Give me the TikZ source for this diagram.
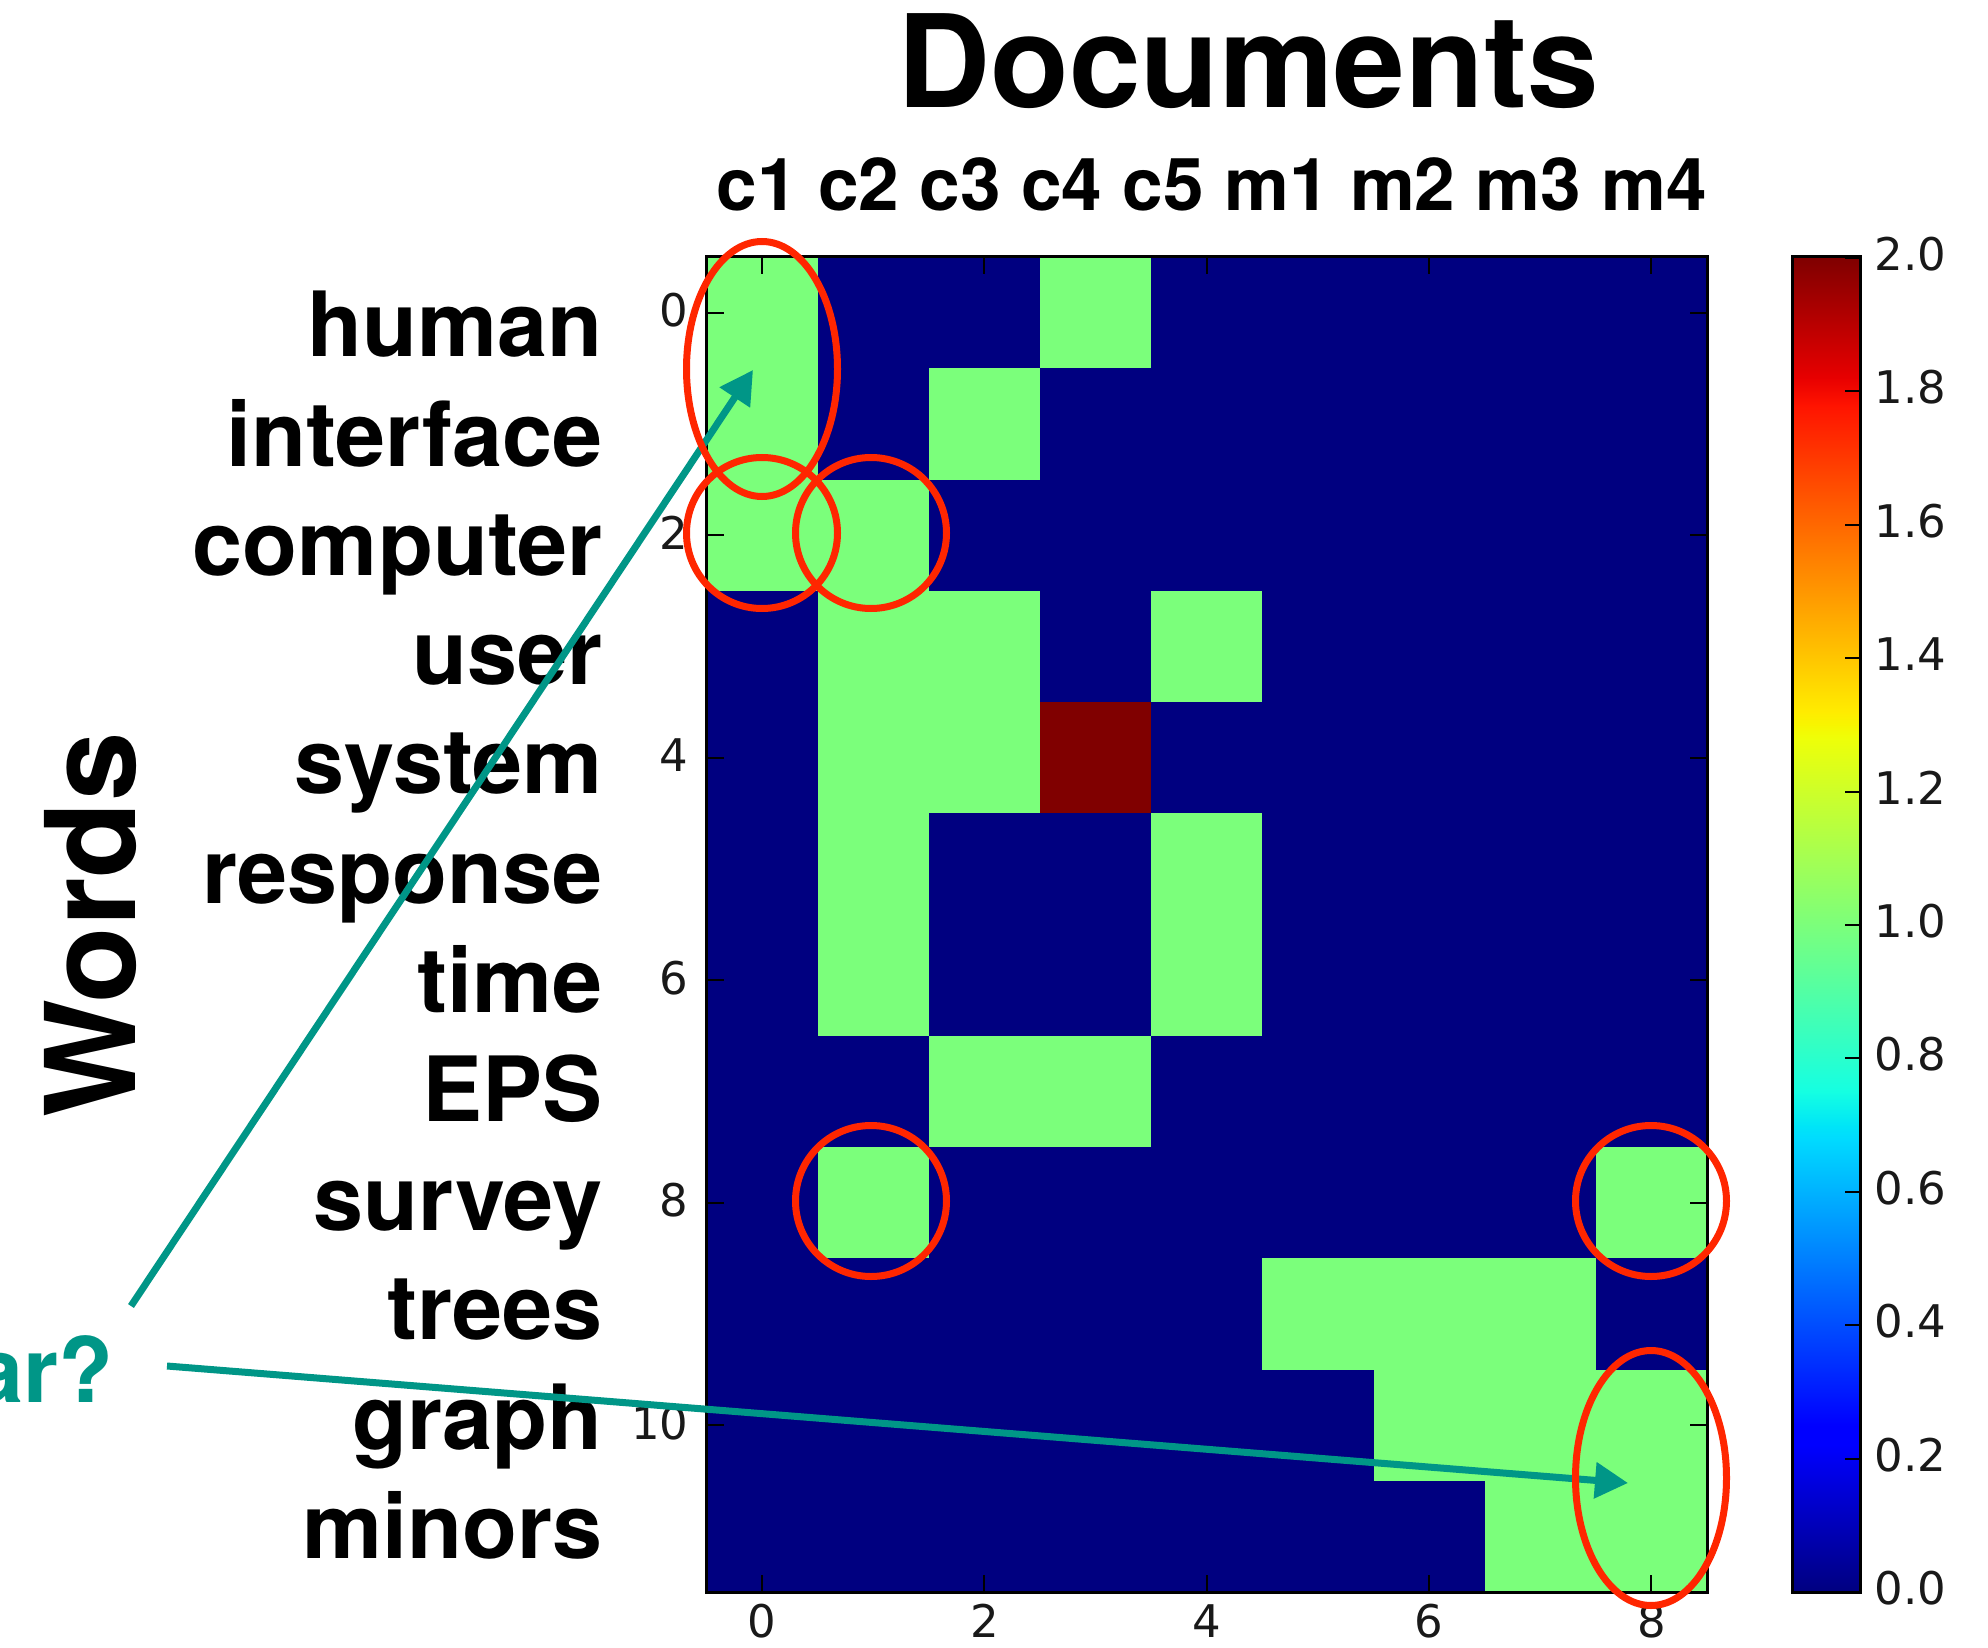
\documentclass[tikz,border=0pt]{standalone}
\usepackage{fontspec}
\setmainfont{TeX Gyre Heros}
\newfontfamily\tickfont{DejaVu Sans}
\usetikzlibrary{arrows.meta,shapes.geometric}

% jet colour map
\definecolor{jetnavy}{rgb}{0,0,0.5}
\definecolor{jetgreen}{rgb}{0.484,1,0.484}
\definecolor{jetmaroon}{rgb}{0.5,0,0}
\definecolor{jA}{rgb}{0,0,0.5}
\definecolor{jB}{rgb}{0,0,1}
\definecolor{jC}{rgb}{0,0,1}
\definecolor{jD}{rgb}{0,0.86,1}
\definecolor{jE}{rgb}{0,0.9,0.968}
\definecolor{jF}{rgb}{0.081,1,0.887}
\definecolor{jG}{rgb}{0.935,1,0.032}
\definecolor{jH}{rgb}{0.968,0.963,0}
\definecolor{jI}{rgb}{1,0.926,0}
\definecolor{jJ}{rgb}{1,0.074,0}
\definecolor{jK}{rgb}{0.909,0,0}
\definecolor{jL}{rgb}{0.5,0,0}
\definecolor{ringred}{RGB}{255,38,0}
\definecolor{arrowteal}{RGB}{0,150,135}

\begin{document}
\begin{tikzpicture}[x=0.5pt,y=-0.5pt,
  tickline/.style={line width=1pt,black},
  ticklabel/.style={inner sep=0pt,font=\tickfont\fontsize{22.5pt}{22.5pt}\selectfont,text=black!90},
  wordlabel/.style={inner sep=0pt,anchor=base east,font=\bfseries\fontsize{45pt}{45pt}\selectfont},
  pointer/.style={arrowteal,line width=3.5pt,-{Triangle[length=16.5pt,width=17.5pt]}},
  ring/.style={draw=ringred,line width=3.5pt,ellipse,inner sep=0pt,fill=none}]
\useasboundingbox (0,0) rectangle (1988,1648);
\fill[white] (0,0) rectangle (1988,1648);

% heat map
\fill[jetnavy] (706.5,257) rectangle (1707,1592);
\foreach \c/\r in {0/0,3/0,0/1,2/1,0/2,1/2,1/3,2/3,4/3,1/4,2/4,1/5,4/5,1/6,4/6,2/7,3/7,1/8,8/8,5/9,6/9,7/9,6/10,7/10,8/10,7/11,8/11}
  \fill[jetgreen] ({706.5+\c*111.17},{257+\r*111.25}) rectangle ++(111.17,111.25);
\fill[jetmaroon] ({706.5+3*111.17},{257+4*111.25}) rectangle ++(111.17,111.25);

% axis ticks
\foreach \c in {0,2,4,6,8} {
  \draw[tickline] ({706.5+(\c+0.5)*111.17},257) -- ++(0,17);
  \draw[tickline] ({706.5+(\c+0.5)*111.17},1592) -- ++(0,-17);
  \node[ticklabel,anchor=base] (xt\c) at ({706.5+(\c+0.5)*111.17},1637) {\c};
}
\foreach \r in {0,2,4,6,8,10} {
  \draw[tickline] (706.5,{257+(\r+0.5)*111.25}) -- ++(17,0);
  \draw[tickline] (1707,{257+(\r+0.5)*111.25}) -- ++(-17,0);
  \node[ticklabel,anchor=base east] (yt\r) at (689,{257+(\r+0.5)*111.25+14}) {\r};
}
\draw[line width=1.5pt] (706.5,257) rectangle (1707,1592);

% colour bar
\foreach \fa/\fb/\ca/\cb in {0/0.11/jA/jB,0.11/0.125/jB/jC,0.125/0.34/jC/jD,0.34/0.35/jD/jE,0.35/0.375/jE/jF,0.375/0.64/jF/jG,0.64/0.65/jG/jH,0.65/0.66/jH/jI,0.66/0.89/jI/jJ,0.89/0.91/jJ/jK,0.91/1/jK/jL}
  \shade[bottom color=\ca,top color=\cb] (1792,{1592-1334*\fa+0.6}) rectangle (1860,{1592-1334*\fb-0.6});
\foreach \v [count=\k from 0] in {0.0,0.2,0.4,0.6,0.8,1.0,1.2,1.4,1.6,1.8,2.0} {
  \draw[tickline] (1860,{1592-133.4*\k}) -- ++(-15,0);
  \node[ticklabel,anchor=base west] (cb\k) at (1874,{1592-133.4*\k+12.5}) {\v};
}
\draw[line width=1.5pt] (1792,257) rectangle (1860,1592);

% titles
\node[inner sep=0pt,anchor=base,font=\bfseries\fontsize{64.4pt}{64.4pt}\selectfont] (title) at (1248,108) {Documents};
\node[inner sep=0pt,anchor=base,font=\bfseries\fontsize{36.5pt}{36.5pt}\selectfont] (docs) at (1212,211) {c1 c2 c3 c4 c5 m1 m2 m3 m4};
\node[inner sep=0pt,rotate=90,anchor=base,font=\bfseries\fontsize{62.5pt}{62.5pt}\selectfont] (words) at (135,925) {Words};

% row labels
\foreach \w [count=\i from 0] in {human,interface,computer,user,system,response,time,EPS,survey,trees,graph,minors}
  \node[wordlabel] (w\i) at (603,{357+109.2*\i}) {\w};

% question
\node[wordlabel,text=arrowteal] (question) at (114,1402) {ar?};

% arrows
\coordinate (a1s) at (131,1306);
\coordinate (a1e) at (753,370);
\coordinate (a2s) at (167,1366);
\coordinate (a2e) at (1628,1483);
\draw[pointer] (a1s) -- (a1e);
\draw[pointer] (a2s) -- (a2e);

% highlight rings
\node[ring,minimum width=75.5pt,minimum height=127.5pt] (e1) at (762,369) {};
\node[ring,minimum width=75.5pt,minimum height=75.5pt] (e2) at (762,533) {};
\node[ring,minimum width=75.5pt,minimum height=75.5pt] (e3) at (871,533) {};
\node[ring,minimum width=75.5pt,minimum height=75.5pt] (e4) at (871,1201) {};
\node[ring,minimum width=75.5pt,minimum height=75.5pt] (e5) at (1651,1201) {};
\node[ring,minimum width=75.5pt,minimum height=127.5pt] (e6) at (1651,1478) {};
\end{tikzpicture}
\end{document}
